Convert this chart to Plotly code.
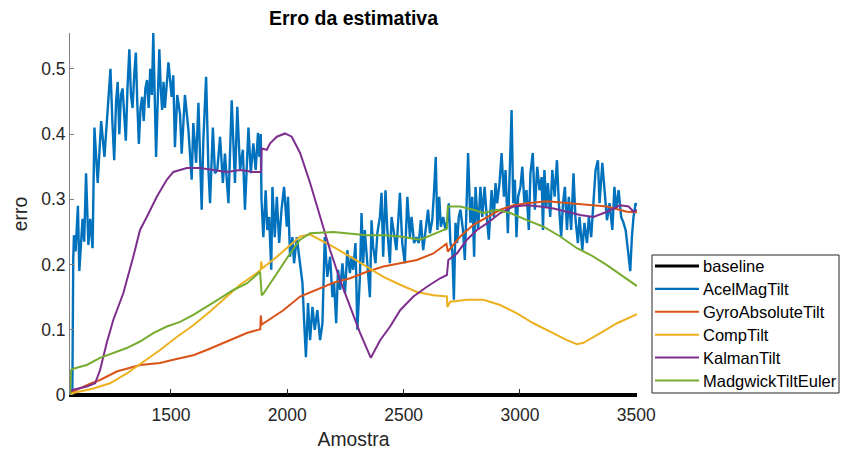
import plotly.graph_objects as go

# ---------------- data ----------------
acel_x = [1066, 1076, 1080, 1083, 1090, 1100, 1106, 1113, 1120, 1127, 1135, 1145, 1153, 1163,
          1171, 1185, 1200, 1214, 1228, 1240, 1248, 1256, 1264, 1271, 1278, 1285, 1292, 1299,
          1306, 1313, 1321, 1328, 1335, 1342, 1349, 1355, 1362, 1369, 1376, 1383, 1390, 1397,
          1404, 1411, 1418, 1424, 1430, 1436, 1443, 1450, 1456, 1462, 1468,
          1474, 1489, 1503, 1510, 1517, 1527, 1539, 1546, 1560, 1575, 1589, 1596, 1608, 1618,
          1632, 1639, 1651, 1661, 1668, 1680, 1689, 1699, 1711, 1723, 1732, 1747, 1761, 1775,
          1785, 1797, 1809, 1818, 1833, 1843, 1854,
          1864, 1874, 1880, 1886, 1889, 1897, 1907, 1914, 1922, 1931, 1936, 1946, 1955, 1965,
          1975, 1986, 1998, 2003, 2012, 2022, 2029, 2041, 2051, 2065, 2072, 2080, 2089, 2098,
          2108, 2118, 2129, 2141, 2151, 2161, 2172, 2184, 2194, 2201, 2210, 2218, 2227, 2237,
          2248, 2258,
          2269, 2276, 2283, 2293, 2301, 2312, 2319, 2326, 2333, 2340, 2347, 2355, 2362, 2369,
          2379, 2387, 2398, 2405, 2412, 2422, 2430, 2441, 2448, 2459, 2469, 2484, 2494, 2505,
          2516, 2527, 2534, 2545, 2555, 2565, 2574, 2584, 2594, 2605, 2613, 2623, 2631, 2638,
          2645, 2653, 2660, 2670, 2680, 2688,
          2694, 2701, 2709, 2716, 2723, 2730, 2737, 2744, 2755, 2763, 2769, 2777, 2787, 2795,
          2803, 2809, 2820, 2830, 2838, 2848, 2856, 2866, 2878, 2888, 2895, 2902, 2912, 2921,
          2931, 2938, 2948, 2957, 2964, 2971, 2978, 2985, 2992, 3002, 3010, 3019, 3028, 3038,
          3045, 3055, 3064, 3074, 3084, 3093,
          3099, 3105, 3113, 3120, 3130, 3139, 3149, 3159, 3167, 3177, 3185, 3193, 3202, 3210,
          3220, 3230, 3239, 3249, 3256, 3268, 3277, 3288, 3296, 3306, 3316, 3325, 3335, 3342,
          3354, 3364, 3374, 3385, 3397, 3406, 3414, 3424, 3435, 3445, 3454, 3464, 3474, 3481,
          3488, 3497, 3503]
acel_y = [0.0, 0.0, 0.21, 0.245, 0.22, 0.29, 0.19, 0.24, 0.27, 0.235, 0.34, 0.23, 0.27, 0.225,
          0.41, 0.325, 0.42, 0.365, 0.43, 0.50, 0.42, 0.36, 0.45, 0.48, 0.40, 0.46, 0.47, 0.43,
          0.39, 0.47, 0.53, 0.46, 0.44, 0.49, 0.525, 0.45, 0.385, 0.44, 0.457, 0.42, 0.47, 0.483,
          0.44, 0.50, 0.46, 0.555, 0.45, 0.365, 0.45, 0.53, 0.47, 0.437, 0.48,
          0.44, 0.51, 0.457, 0.49, 0.38, 0.46, 0.43, 0.37, 0.46, 0.406, 0.33, 0.417, 0.356, 0.448,
          0.284, 0.39, 0.488, 0.345, 0.294, 0.41, 0.34, 0.345, 0.396, 0.325, 0.37, 0.294, 0.452, 0.325,
          0.442, 0.345, 0.376, 0.284, 0.41, 0.34, 0.386,
          0.345, 0.402, 0.365, 0.40, 0.30, 0.242, 0.314, 0.253, 0.273, 0.192, 0.319, 0.242, 0.304, 0.233,
          0.284, 0.319, 0.258, 0.304, 0.212, 0.242, 0.202, 0.242, 0.212, 0.172, 0.115, 0.058, 0.141, 0.084,
          0.135, 0.10, 0.13, 0.084, 0.11, 0.242, 0.181, 0.212, 0.15, 0.172, 0.11, 0.192, 0.161, 0.202,
          0.156, 0.222,
          0.187, 0.212, 0.192, 0.233, 0.10, 0.181, 0.279, 0.202, 0.253, 0.222, 0.181, 0.15, 0.268, 0.227,
          0.202, 0.248, 0.273, 0.31, 0.212, 0.314, 0.253, 0.202, 0.273, 0.242, 0.222, 0.31, 0.233, 0.202,
          0.304, 0.242, 0.273, 0.233, 0.242, 0.233, 0.268, 0.222, 0.253, 0.284, 0.248, 0.268, 0.314, 0.365,
          0.253, 0.304, 0.258, 0.273, 0.253, 0.268,
          0.294, 0.233, 0.222, 0.146, 0.264, 0.233, 0.273, 0.284, 0.253, 0.207, 0.273, 0.371, 0.264, 0.304,
          0.212, 0.319, 0.253, 0.319, 0.273, 0.319, 0.279, 0.238, 0.314, 0.273, 0.325, 0.294, 0.325, 0.371,
          0.304, 0.345, 0.248, 0.34, 0.437, 0.294, 0.33, 0.242, 0.304, 0.319, 0.35, 0.294, 0.314, 0.253,
          0.34, 0.371, 0.284, 0.35, 0.314, 0.334,
          0.253, 0.345, 0.288, 0.325, 0.273, 0.345, 0.304, 0.36, 0.294, 0.242, 0.294, 0.319, 0.253, 0.304,
          0.253, 0.34, 0.268, 0.233, 0.273, 0.222, 0.264, 0.233, 0.273, 0.242, 0.304, 0.345, 0.36, 0.294,
          0.356, 0.314, 0.268, 0.294, 0.253, 0.319, 0.284, 0.314, 0.273, 0.264, 0.253, 0.222, 0.19, 0.242,
          0.273, 0.294, 0.29]

gyro_x = [1066, 1080, 1095, 1150, 1195, 1267, 1367, 1453, 1510, 1596, 1654, 1740, 1826, 1884,
          1886, 1890, 1912, 1983, 2055, 2127, 2198, 2270, 2342, 2413, 2485, 2557, 2628, 2684,
          2690, 2743, 2800, 2858, 2915, 2972, 3030, 3116, 3202, 3288, 3374, 3460, 3503]
gyro_y = [0.0, 0.005, 0.008, 0.017, 0.023, 0.036, 0.046, 0.049, 0.054, 0.061, 0.069, 0.082, 0.095, 0.101,
          0.122, 0.108, 0.113, 0.13, 0.151, 0.161, 0.172, 0.179, 0.189, 0.197, 0.202, 0.207, 0.217, 0.232,
          0.22, 0.243, 0.261, 0.273, 0.284, 0.291, 0.294, 0.297, 0.294, 0.291, 0.289, 0.281, 0.28]

comp_x = [1066, 1080, 1166, 1238, 1310, 1381, 1453, 1525, 1596, 1668, 1740, 1797, 1869, 1886,
          1888, 1892, 1955, 2012, 2055, 2098, 2198, 2270, 2342, 2413, 2485, 2557, 2628, 2686,
          2688, 2700, 2772, 2843, 2915, 2987, 3058, 3130, 3202, 3245, 3273, 3345, 3417, 3503]
comp_y = [0.0, 0.003, 0.01, 0.018, 0.033, 0.051, 0.069, 0.089, 0.107, 0.128, 0.151, 0.169, 0.187, 0.192,
          0.205, 0.194, 0.212, 0.23, 0.243, 0.246, 0.227, 0.212, 0.197, 0.181, 0.169, 0.158, 0.153, 0.151,
          0.135, 0.143, 0.146, 0.146, 0.138, 0.125, 0.11, 0.097, 0.084, 0.078, 0.08, 0.095, 0.11, 0.124]

kalman_x = [1066, 1080, 1138, 1174, 1195, 1224, 1252, 1295, 1338, 1367, 1396, 1439, 1482, 1510,
            1568, 1625, 1682, 1740, 1797, 1854, 1887, 1890, 1912, 1926, 1955, 1990, 2019, 2055,
            2098, 2141, 2184, 2227, 2270, 2313, 2359, 2399, 2442, 2485, 2542, 2600, 2657, 2686,
            2692, 2729, 2772, 2815, 2858, 2915, 2972, 3030, 3087, 3144, 3202, 3259, 3316, 3374,
            3431, 3467, 3488, 3503]
kalman_y = [0.005, 0.008, 0.013, 0.018, 0.038, 0.08, 0.115, 0.156, 0.212, 0.253, 0.273, 0.304, 0.33, 0.342,
            0.348, 0.348, 0.345, 0.342, 0.345, 0.342, 0.342, 0.378, 0.376, 0.386, 0.396, 0.401, 0.396, 0.371,
            0.325, 0.273, 0.222, 0.176, 0.135, 0.095, 0.057, 0.084, 0.105, 0.13, 0.151, 0.166, 0.179, 0.184,
            0.207, 0.217, 0.238, 0.253, 0.263, 0.279, 0.289, 0.291, 0.289, 0.286, 0.281, 0.276, 0.273, 0.281,
            0.291, 0.289, 0.281, 0.284]

madg_x = [1066, 1070, 1087, 1138, 1195, 1252, 1310, 1367, 1424, 1482, 1539, 1596, 1654, 1711,
          1768, 1826, 1883, 1890, 1897, 1955, 2012, 2055, 2098, 2198, 2270, 2342, 2413, 2485,
          2571, 2620, 2686, 2690, 2743, 2800, 2843, 2901, 2958, 3030, 3101, 3173, 3245, 3302,
          3374, 3446, 3503]
madg_y = [0.0, 0.038, 0.041, 0.046, 0.057, 0.064, 0.072, 0.082, 0.095, 0.105, 0.112, 0.123, 0.135, 0.148,
          0.161, 0.171, 0.189, 0.153, 0.155, 0.187, 0.217, 0.238, 0.248, 0.25, 0.248, 0.245, 0.245, 0.243,
          0.238, 0.245, 0.255, 0.289, 0.289, 0.284, 0.279, 0.284, 0.279, 0.268, 0.258, 0.243, 0.225, 0.215,
          0.199, 0.181, 0.167]

base_x = [1066, 3503]
base_y = [0.0, 0.0]

x_ticks = [1500, 2000, 2500, 3000, 3500]

# MATLAB default colour order
C_BLUE = "#0072BD"
C_ORANGE = "#D95319"
C_YELLOW = "#EDB120"
C_PURPLE = "#7E2F8E"
C_GREEN = "#77AC30"

FONT = "Liberation Sans, Arial, Helvetica, sans-serif"
TXT = "#262626"

series = [
    ("baseline", base_x, base_y, "black", 4),
    ("AcelMagTilt", acel_x, acel_y, C_BLUE, 2.4),
    ("GyroAbsoluteTilt", gyro_x, gyro_y, C_ORANGE, 2),
    ("CompTilt", comp_x, comp_y, C_YELLOW, 2),
    ("KalmanTilt", kalman_x, kalman_y, C_PURPLE, 2),
    ("MadgwickTiltEuler", madg_x, madg_y, C_GREEN, 2),
]

fig = go.Figure()
for name, xs, ys, col, w in series:
    fig.add_trace(go.Scatter(x=xs, y=ys, mode="lines", name=name,
                             line=dict(color=col, width=w), showlegend=False))

all_x = [v for s in series for v in s[1]]
all_y = [v for s in series for v in s[2]]

# plot box in pixels (left, right, top, bottom)
W, H = 844, 455
PL, PR, PT, PB = 70, 637, 33, 395


def px(xp):
    return (xp - PL) / (PR - PL)


def py(yp):
    return (PB - yp) / (PB - PT)


# legend box outside the axes, lower right
shapes = [dict(type="rect", xref="paper", yref="paper",
               x0=px(652), x1=px(839), y0=py(393), y1=py(255),
               line=dict(color=TXT, width=1), fillcolor="white", layer="above")]
annotations = []
for i, (name, xs, ys, col, w) in enumerate(series):
    yc = 266 + i * 22.9
    shapes.append(dict(type="line", xref="paper", yref="paper",
                       x0=px(655), x1=px(699), y0=py(yc), y1=py(yc),
                       line=dict(color=col, width=min(w, 3)), layer="above"))
    annotations.append(dict(text=name, xref="paper", yref="paper",
                            x=px(701), y=py(yc), xanchor="left", yanchor="middle",
                            showarrow=False, font=dict(size=16.5, color="black", family=FONT)))

fig.update_layout(
    width=W, height=H,
    margin=dict(l=PL, r=W - PR, t=PT, b=H - PB, autoexpand=False),
    paper_bgcolor="white", plot_bgcolor="white",
    font=dict(family=FONT, color=TXT),
    showlegend=False,
    title=dict(text="<b>Erro da estimativa</b>", x=0.5, xref="paper", xanchor="center",
               y=1 - 18 / H, yref="container", yanchor="middle",
               font=dict(size=19.5, color="black", family=FONT)),
    xaxis=dict(range=[min(all_x), max(all_x)], tickvals=x_ticks,
               ticks="inside", ticklen=6, tickcolor=TXT, tickwidth=1,
               showline=True, linecolor="black", linewidth=2,
               showgrid=False, zeroline=False, ticklabelstandoff=3, automargin=False,
               tickfont=dict(size=17.5, color=TXT),
               title=dict(text="Amostra", font=dict(size=19.3, color=TXT), standoff=8)),
    yaxis=dict(range=[0, max(all_y)], tick0=0, dtick=0.1,
               ticks="inside", ticklen=4, tickcolor="#808080", tickwidth=1,
               showline=True, linecolor="#808080", linewidth=1,
               showgrid=False, zeroline=False, automargin=False,
               tickfont=dict(size=17.5, color=TXT),
               title=dict(text="erro", font=dict(size=19.3, color=TXT), standoff=8)),
    shapes=shapes,
    annotations=annotations,
)

fig.write_html("out.html")
